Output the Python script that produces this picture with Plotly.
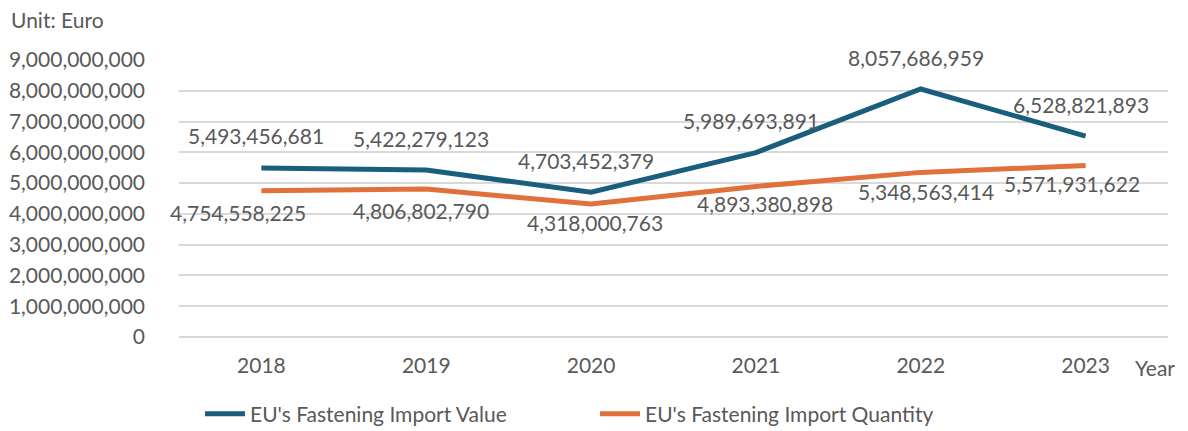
import plotly.graph_objects as go

years = ["2018", "2019", "2020", "2021", "2022", "2023"]
import_value = [5493456681, 5422279123, 4703452379, 5989693891, 8057686959, 6528821893]
import_quantity = [4754558225, 4806802790, 4318000763, 4893380898, 5348563414, 5571931622]
series_names = ["EU's Fastening Import Value", "EU's Fastening Import Quantity"]
tick_vals = [0, 1e9, 2e9, 3e9, 4e9, 5e9, 6e9, 7e9, 8e9, 9e9]

BLUE = "#1a5e7e"
ORANGE = "#e1703a"
GREY = "#595959"
FONT = "Lato"
FS = 21

# page body has an 8px margin, so the figure is offset by 8px inside the window
OFF = 8
W, H = 1188 - OFF, 431 - OFF
ML, MR, MT, MB = 179 - OFF, W - (1168 - OFF), 60 - OFF, H - (337 - OFF)
PW, PH = W - ML - MR, H - MT - MB


def px_x(px):
    return (px - OFF - ML) / PW


def px_y(py):
    return (H - MB - (py - OFF)) / PH


idx = list(range(len(years)))

fig = go.Figure()
fig.add_trace(go.Scatter(x=idx, y=import_value, mode="lines", name=series_names[0],
                         line=dict(color=BLUE, width=5)))
fig.add_trace(go.Scatter(x=idx, y=import_quantity, mode="lines", name=series_names[1],
                         line=dict(color=ORANGE, width=5)))

# label offsets (px) relative to points
blue_off = [(-5, 32)] * 6
orange_off = [(-23, -22), (-5, -21), (4, -18), (9, -17), (5, -19), (-14, -18)]

anns = []
for i in idx:
    anns.append(dict(x=i, y=import_value[i], xref="x", yref="y", text=f"{import_value[i]:,}",
                     showarrow=False, xshift=blue_off[i][0], yshift=blue_off[i][1],
                     font=dict(family=FONT, size=FS, color=GREY)))
    anns.append(dict(x=i, y=import_quantity[i], xref="x", yref="y", text=f"{import_quantity[i]:,}",
                     showarrow=False, xshift=orange_off[i][0], yshift=orange_off[i][1],
                     font=dict(family=FONT, size=FS, color=GREY)))
anns.append(dict(x=px_x(9), y=px_y(20), xref="paper", yref="paper", text="Unit: Euro",
                 showarrow=False, xanchor="left", yanchor="middle",
                 font=dict(family=FONT, size=FS, color=GREY)))
anns.append(dict(x=px_x(1155), y=px_y(367), xref="paper", yref="paper", text="Year",
                 showarrow=False, xanchor="center", yanchor="middle",
                 font=dict(family=FONT, size=FS, color=GREY)))

fig.update_layout(
    width=W, height=H,
    margin=dict(l=ML, r=MR, t=MT, b=MB, autoexpand=False),
    plot_bgcolor="white", paper_bgcolor="white",
    font=dict(family=FONT, size=FS, color=GREY),
    annotations=anns,
    showlegend=True,
    legend=dict(orientation="h", xref="container", yref="container",
                x=192 / W, y=1 - (414 - OFF) / H, xanchor="left", yanchor="middle",
                font=dict(family=FONT, size=FS, color=GREY), itemwidth=40,
                entrywidth=340),
    xaxis=dict(range=[-0.5, len(years) - 0.5], tickvals=idx, ticktext=years,
               showgrid=False, showline=False, zeroline=False, ticks="", ticklabelstandoff=14,
               tickfont=dict(family=FONT, size=FS, color=GREY)),
    yaxis=dict(range=[0, 9e9], tickvals=tick_vals, tickformat=",d", showgrid=True,
               gridcolor="#d9d9d9", gridwidth=1.5, zeroline=True, zerolinecolor="#d9d9d9",
               zerolinewidth=1.5, showline=False, ticks="", ticklabelstandoff=33,
               tickfont=dict(family=FONT, size=FS, color=GREY)),
)

fig.write_html("out.html")
